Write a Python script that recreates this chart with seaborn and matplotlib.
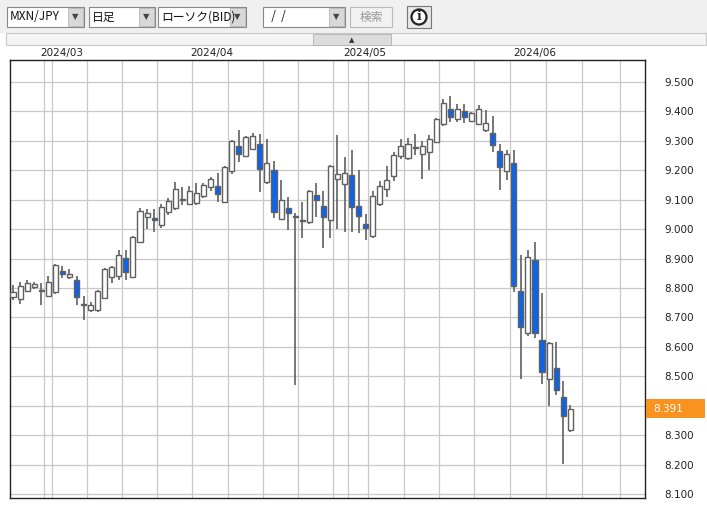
import matplotlib
matplotlib.use("Agg")
import matplotlib.pyplot as plt
from matplotlib.patches import Rectangle, Circle
import seaborn as sns
import numpy as np

# daily MXN/JPY candles (BID)
opens = [8.769, 8.763, 8.790, 8.804, 8.790, 8.773, 8.786, 8.858, 8.838, 8.827,
         8.742, 8.725, 8.725, 8.766, 8.837, 8.841, 8.902, 8.837, 8.956, 9.041,
         9.038, 9.014, 9.058, 9.072, 9.099, 9.085, 9.089, 9.113, 9.143, 9.146,
         9.092, 9.198, 9.283, 9.249, 9.272, 9.289, 9.160, 9.200, 9.035, 9.072,
         9.041, 9.027, 9.024, 9.116, 9.079, 9.031, 9.170, 9.153, 9.184, 9.079,
         9.017, 8.977, 9.085, 9.136, 9.180, 9.249, 9.242, 9.276, 9.255, 9.262,
         9.296, 9.357, 9.408, 9.374, 9.401, 9.367, 9.357, 9.337, 9.327, 9.266,
         9.198, 9.225, 8.790, 8.647, 8.895, 8.623, 8.491, 8.528, 8.430, 8.318]
highs = [8.810, 8.820, 8.827, 8.820, 8.817, 8.841, 8.881, 8.875, 8.865, 8.841,
         8.773, 8.752, 8.793, 8.868, 8.875, 8.929, 8.929, 8.976, 9.072, 9.069,
         9.069, 9.085, 9.106, 9.160, 9.143, 9.146, 9.156, 9.156, 9.177, 9.190,
         9.214, 9.303, 9.337, 9.317, 9.327, 9.323, 9.306, 9.231, 9.167, 9.109,
         9.055, 9.092, 9.133, 9.156, 9.129, 9.218, 9.320, 9.245, 9.270, 9.201,
         9.050, 9.130, 9.163, 9.215, 9.262, 9.306, 9.310, 9.323, 9.300, 9.320,
         9.378, 9.442, 9.452, 9.425, 9.425, 9.398, 9.422, 9.405, 9.384, 9.290,
         9.269, 9.269, 8.912, 8.929, 8.956, 8.783, 8.616, 8.616, 8.484, 8.402]
lows = [8.760, 8.746, 8.786, 8.797, 8.742, 8.770, 8.780, 8.834, 8.831, 8.742,
        8.691, 8.718, 8.718, 8.766, 8.817, 8.827, 8.827, 8.837, 8.956, 9.000,
        8.990, 9.004, 9.048, 9.065, 9.082, 9.082, 9.082, 9.106, 9.129, 9.092,
        9.092, 9.187, 9.228, 9.245, 9.269, 9.126, 9.153, 9.038, 9.031, 8.997,
        8.470, 8.969, 9.017, 9.041, 8.935, 8.969, 9.000, 8.990, 8.990, 8.986,
        8.963, 8.969, 9.078, 9.109, 9.163, 9.238, 9.235, 9.252, 9.170, 9.201,
        9.296, 9.350, 9.364, 9.364, 9.360, 9.364, 9.354, 9.330, 9.262, 9.133,
        9.167, 8.786, 8.490, 8.637, 8.630, 8.474, 8.399, 8.436, 8.202, 8.311]
closes = [8.786, 8.807, 8.817, 8.814, 8.792, 8.820, 8.878, 8.848, 8.848, 8.769,
          8.744, 8.742, 8.790, 8.865, 8.871, 8.912, 8.855, 8.973, 9.062, 9.055,
          9.031, 9.075, 9.096, 9.136, 9.101, 9.129, 9.122, 9.150, 9.170, 9.120,
          9.211, 9.300, 9.255, 9.313, 9.317, 9.204, 9.225, 9.058, 9.099, 9.055,
          9.043, 9.029, 9.129, 9.100, 9.041, 9.215, 9.187, 9.190, 9.075, 9.045,
          9.004, 9.113, 9.146, 9.167, 9.252, 9.283, 9.289, 9.278, 9.283, 9.306,
          9.374, 9.429, 9.381, 9.408, 9.381, 9.395, 9.408, 9.360, 9.286, 9.211,
          9.255, 8.807, 8.668, 8.905, 8.647, 8.515, 8.613, 8.453, 8.365, 8.389]

month_labels = ["2024/03", "2024/04", "2024/05", "2024/06"]
month_pos = [6.95, 28.2, 49.8, 73.9]
grid_x = [44, 52, 87, 122, 157, 192, 228, 263, 298, 333, 348, 368, 404,
          439, 474, 510, 546, 582, 620]
y_ticks = [8.1, 8.2, 8.3, 8.4, 8.5, 8.6, 8.7, 8.8, 8.9, 9.0, 9.1, 9.2, 9.3, 9.4, 9.5]
last_price = "8.391"

sns.set_style("white")
plt.rcParams['font.family'] = ['Noto Sans CJK JP', 'DejaVu Sans']

fig = plt.figure(figsize=(7.07, 5.05), dpi=100)
fig.patch.set_facecolor("white")
W, H = 707, 505

def fx(px):
    return px / W

def fy(py):
    return 1 - py / H

# toolbar
fig.patches.append(Rectangle((0, fy(33)), 1, 33 / H, transform=fig.transFigure,
                             facecolor="#f0f0f0", edgecolor="none"))
fig.patches.append(Rectangle((fx(6), fy(45)), fx(700), 12 / H, transform=fig.transFigure,
                             facecolor="#f4f4f4", edgecolor="#c8c8c8", lw=0.8))
fig.patches.append(Rectangle((fx(313), fy(45)), fx(78), 11 / H, transform=fig.transFigure,
                             facecolor="#dcdcdc", edgecolor="#b0b0b0", lw=0.6))
fig.text(fx(352), fy(40), "▲", fontsize=5, ha="center", va="center", color="#333333",
         family=["DejaVu Sans"])
boxes = [(7, 84, "MXN/JPY"), (89, 155, "日足"), (158, 246, "ローソク(BID)"), (263, 345, "  /  /")]
for x0, x1, txt in boxes:
    fig.patches.append(Rectangle((fx(x0), fy(27)), fx(x1 - x0), 20 / H, transform=fig.transFigure,
                                 facecolor="white", edgecolor="#888888", lw=0.8))
    fig.patches.append(Rectangle((fx(x1 - 16), fy(26)), fx(15), 18 / H, transform=fig.transFigure,
                                 facecolor="#d8d8d8", edgecolor="#aaaaaa", lw=0.5))
    fig.text(fx(x1 - 8.5), fy(17), "▼", fontsize=6, ha="center", va="center", color="#444444",
             family=["DejaVu Sans"])
    fig.text(fx(x0 + 3), fy(17), txt, fontsize=8.5, ha="left", va="center", color="#111111")
fig.patches.append(Rectangle((fx(350), fy(27)), fx(42), 20 / H, transform=fig.transFigure,
                             facecolor="#f2f2f2", edgecolor="#bbbbbb", lw=0.8))
fig.text(fx(371), fy(17), "検索", fontsize=8.5, ha="center", va="center", color="#999999")
fig.patches.append(Rectangle((fx(407), fy(28)), fx(24), 22 / H, transform=fig.transFigure,
                             facecolor="#e8e8e8", edgecolor="#777777", lw=0.8))
# info icon: round shape (in inches so it stays a circle) with a real "i"
fig.patches.append(Circle((4.19, (H - 17) / 100), 0.075, transform=fig.dpi_scale_trans,
                          facecolor="white", edgecolor="#222222", lw=1.6))
fig.text(fx(419), fy(17), "i", fontsize=9, fontweight="bold", ha="center", va="center",
         color="#222222", family=["DejaVu Serif"])

# chart
ax = fig.add_axes([fx(10), 7 / H, fx(635), 438 / H])
x = np.arange(len(opens))
o = np.array(opens); c = np.array(closes)
up = c >= o
ax.vlines(x, lows, highs, color="#606060", lw=1.2, zorder=3)
bottom = np.minimum(o, c)
height = np.maximum(np.abs(c - o), 0.004)
colors = np.where(up, "white", "#0a64f0")
ax.bar(x, height, bottom=bottom, width=0.72, color=colors, edgecolor="#606060",
       linewidth=1.0, zorder=4)

for gx in grid_x:
    ax.axvline((gx - 13) / 7.05, color="#c8c8c8", lw=0.9, zorder=1)
for yt in y_ticks:
    ax.axhline(yt, color="#c8c8c8", lw=0.9, zorder=1)

ax.set_xlim(-0.43, 89.6)
ax.set_ylim(8.0865, 9.575)
ax.set_xticks([])
ax.yaxis.tick_right()
ax.set_yticks(y_ticks)
# the 8.400 label sits under the current-price box
ax.set_yticklabels(["" if abs(v - 8.4) < 1e-9 else f"{v:.3f}" for v in y_ticks],
                   fontsize=7.5, color="#222222", family=["DejaVu Sans"])
ax.tick_params(axis="y", length=0, pad=14)
for s in ax.spines.values():
    s.set_color("#222222")
    s.set_linewidth(1.0)

for lab, pos in zip(month_labels, month_pos):
    ax.text(pos, 1.005, lab, transform=ax.get_xaxis_transform(), ha="center", va="bottom",
            fontsize=7.5, color="#222222", family=["DejaVu Sans"])

fig.patches.append(Rectangle((fx(646), fy(418)), fx(59), 19 / H, transform=fig.transFigure,
                             facecolor="#f7931e", edgecolor="none"))
fig.text(fx(668), fy(408.5), last_price, fontsize=7.5, ha="center", va="center", color="white",
         family=["DejaVu Sans"])

fig.savefig("out.png", dpi=100)
